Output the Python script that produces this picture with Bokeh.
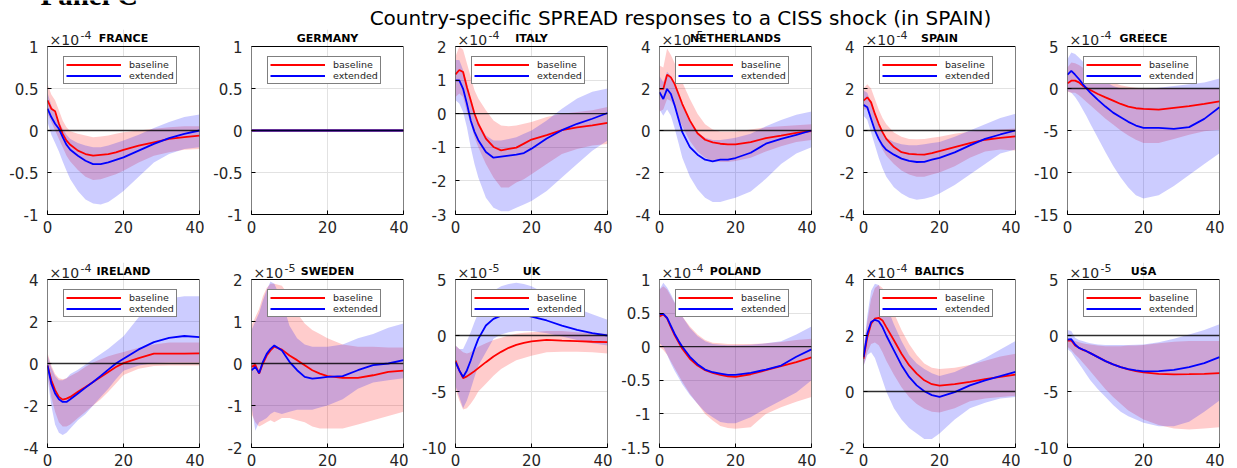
from bokeh.plotting import figure
from bokeh.models import Span, Label, Legend, LegendItem, FixedTicker, Range1d, BoxAnnotation
from bokeh.layouts import column, row
from bokeh.embed import file_html
from bokeh.resources import INLINE

# ---------------- data (values in units of the panel exponent) ----------------
horizon = [0, 1, 2, 3, 4, 5, 6, 8, 10, 12, 14, 16, 18, 20, 24, 28, 32, 36, 40]

countries = ["FRANCE", "GERMANY", "ITALY", "NETHERLANDS", "SPAIN", "GREECE",
             "IRELAND", "SWEDEN", "UK", "POLAND", "BALTICS", "USA"]
exponents = ["-4", None, "-4", "-5", "-4", "-4", "-4", "-5", "-5", "-4", "-4", "-5"]
y_limits = [(-1, 1), (-1, 1), (-3, 2), (-4, 4), (-4, 4), (-15, 5),
            (-4, 4), (-2, 2), (-10, 5), (-1.5, 1), (-2, 4), (-10, 5)]
y_tick_values = [[-1, -0.5, 0, 0.5, 1], [-1, -0.5, 0, 0.5, 1], [-3, -2, -1, 0, 1, 2],
                 [-4, -2, 0, 2, 4], [-4, -2, 0, 2, 4], [-15, -10, -5, 0, 5],
                 [-4, -2, 0, 2, 4], [-2, -1, 0, 1, 2], [-10, -5, 0, 5],
                 [-1.5, -1, -0.5, 0, 0.5, 1], [-2, 0, 2, 4], [-10, -5, 0, 5]]
x_tick_values = [0, 20, 40]
title_text = "Country-specific SPREAD responses to a CISS shock (in SPAIN)"
panel_text = "Panel C"

france_base = [0.36, 0.26, 0.23, 0.08, -0.04, -0.12, -0.17, -0.24, -0.28, -0.30, -0.29, -0.28, -0.26, -0.23, -0.18, -0.14, -0.10, -0.08, -0.06]
france_ext = [0.26, 0.16, 0.08, 0.02, -0.08, -0.17, -0.23, -0.30, -0.36, -0.40, -0.40, -0.38, -0.35, -0.32, -0.24, -0.16, -0.09, -0.04, 0.0]
france_base_hi = [0.55, 0.43, 0.36, 0.24, 0.12, 0.04, -0.01, -0.04, -0.06, -0.08, -0.07, -0.06, -0.04, -0.02, 0.0, 0.02, 0.04, 0.05, 0.05]
france_base_lo = [0.2, 0.1, 0.0, -0.1, -0.2, -0.3, -0.37, -0.47, -0.55, -0.59, -0.58, -0.55, -0.52, -0.48, -0.38, -0.30, -0.26, -0.23, -0.22]
france_ext_hi = [0.45, 0.30, 0.20, 0.10, 0.02, -0.05, -0.10, -0.15, -0.18, -0.20, -0.20, -0.18, -0.15, -0.12, -0.05, 0.03, 0.10, 0.16, 0.19]
france_ext_lo = [0.10, -0.05, -0.15, -0.25, -0.37, -0.48, -0.58, -0.72, -0.82, -0.87, -0.88, -0.85, -0.79, -0.72, -0.55, -0.38, -0.28, -0.22, -0.20]

germany_base = [0.0] * 19
germany_ext = [0.0] * 19
germany_base_hi = [0.0] * 19
germany_base_lo = [0.0] * 19
germany_ext_hi = [0.0] * 19
germany_ext_lo = [0.0] * 19

italy_base = [1.17, 1.30, 1.24, 0.79, 0.40, 0.0, -0.30, -0.74, -0.99, -1.09, -1.05, -1.01, -0.89, -0.77, -0.64, -0.49, -0.41, -0.35, -0.27]
italy_ext = [0.99, 0.99, 0.74, 0.30, -0.20, -0.54, -0.79, -1.14, -1.31, -1.28, -1.25, -1.22, -1.17, -1.04, -0.74, -0.49, -0.30, -0.15, 0.02]
italy_base_hi = [1.7, 2.0, 1.9, 1.5, 1.1, 0.7, 0.45, 0.1, -0.2, -0.35, -0.37, -0.35, -0.3, -0.25, -0.1, 0.0, 0.05, 0.1, 0.2]
italy_base_lo = [0.5, 0.6, 0.5, 0.05, -0.3, -0.7, -1.0, -1.5, -1.9, -2.2, -2.2, -2.05, -1.95, -1.8, -1.5, -1.2, -1.05, -0.95, -0.9]
italy_ext_hi = [1.6, 1.6, 1.3, 0.9, 0.4, 0.0, -0.3, -0.65, -0.8, -0.8, -0.75, -0.7, -0.6, -0.5, -0.2, 0.15, 0.45, 0.65, 0.75]
italy_ext_lo = [0.4, 0.3, 0.05, -0.4, -1.0, -1.5, -1.9, -2.5, -2.8, -2.9, -2.9, -2.8, -2.7, -2.6, -2.3, -1.9, -1.5, -1.1, -0.8]

netherlands_base = [1.98, 1.98, 2.66, 2.53, 2.21, 1.74, 1.26, 0.47, -0.13, -0.44, -0.57, -0.63, -0.66, -0.66, -0.55, -0.36, -0.24, -0.11, -0.03]
netherlands_ext = [1.82, 1.50, 1.98, 1.74, 1.19, 0.55, -0.08, -0.79, -1.15, -1.39, -1.47, -1.39, -1.39, -1.31, -1.06, -0.63, -0.40, -0.21, 0.0]
netherlands_base_hi = [3.1, 3.0, 3.9, 3.6, 3.2, 2.8, 2.3, 1.5, 0.8, 0.3, 0.05, -0.05, -0.05, -0.05, 0.05, 0.15, 0.2, 0.25, 0.3]
netherlands_base_lo = [0.9, 1.0, 1.5, 1.4, 1.1, 0.6, 0.2, -0.5, -1.0, -1.3, -1.45, -1.5, -1.5, -1.45, -1.3, -1.0, -0.75, -0.55, -0.45]
netherlands_ext_hi = [2.6, 2.3, 2.8, 2.6, 2.2, 1.7, 1.2, 0.4, -0.1, -0.35, -0.45, -0.45, -0.4, -0.35, -0.15, 0.2, 0.5, 0.75, 0.9]
netherlands_ext_lo = [1.0, 0.7, 1.0, 0.7, 0.1, -0.6, -1.3, -2.2, -2.8, -3.2, -3.4, -3.4, -3.3, -3.2, -2.9, -2.3, -1.6, -1.1, -0.8]

spain_base = [1.42, 1.58, 1.34, 0.79, 0.32, -0.08, -0.40, -0.79, -1.03, -1.11, -1.14, -1.15, -1.08, -0.98, -0.79, -0.60, -0.44, -0.35, -0.28]
spain_ext = [1.22, 1.11, 0.55, 0.0, -0.40, -0.71, -0.92, -1.15, -1.34, -1.45, -1.50, -1.49, -1.39, -1.30, -1.04, -0.71, -0.40, -0.19, 0.0]
spain_base_hi = [2.0, 2.2, 2.0, 1.5, 1.0, 0.6, 0.3, -0.1, -0.3, -0.4, -0.42, -0.4, -0.35, -0.3, -0.15, -0.05, 0.0, 0.05, 0.1]
spain_base_lo = [1.0, 1.0, 0.6, 0.0, -0.5, -0.9, -1.2, -1.6, -1.9, -2.1, -2.2, -2.2, -2.1, -2.0, -1.7, -1.3, -1.0, -0.9, -0.95]
spain_ext_hi = [1.9, 1.8, 1.3, 0.8, 0.3, -0.1, -0.35, -0.55, -0.65, -0.7, -0.7, -0.65, -0.6, -0.55, -0.3, 0.0, 0.3, 0.6, 0.8]
spain_ext_lo = [0.7, 0.5, -0.1, -0.7, -1.3, -1.8, -2.2, -2.7, -3.0, -3.2, -3.3, -3.25, -3.15, -3.0, -2.6, -2.1, -1.6, -1.1, -0.9]

greece_base = [0.61, 0.93, 0.93, 0.73, 0.34, 0.06, -0.18, -0.65, -1.05, -1.44, -1.84, -2.15, -2.35, -2.43, -2.51, -2.31, -2.11, -1.84, -1.52]
greece_ext = [1.64, 2.11, 1.64, 1.13, 0.53, 0.02, -0.49, -1.36, -2.15, -2.87, -3.42, -3.97, -4.41, -4.68, -4.68, -4.80, -4.60, -3.62, -2.23]
greece_base_hi = [2.5, 3.1, 3.0, 2.8, 2.5, 2.2, 1.9, 1.4, 1.0, 0.7, 0.4, 0.2, 0.1, 0.0, 0.05, 0.05, 0.0, 0.0, 0.0]
greece_base_lo = [-0.4, -0.5, -0.5, -0.8, -1.2, -1.6, -2.0, -2.8, -3.6, -4.3, -5.0, -5.6, -6.1, -6.5, -6.5, -6.0, -5.5, -5.1, -4.9]
greece_ext_hi = [3.5, 4.3, 4.1, 3.7, 3.2, 2.7, 2.2, 1.4, 0.8, 0.3, 0.0, -0.1, -0.1, -0.1, 0.1, 0.3, 0.5, 0.7, 1.2]
greece_ext_lo = [-0.3, -0.5, -1.0, -1.7, -2.5, -3.3, -4.2, -5.9, -7.6, -9.2, -10.6, -11.8, -12.7, -13.1, -12.7, -11.6, -10.3, -9.0, -7.7]

ireland_base = [-0.09, -0.80, -1.27, -1.59, -1.72, -1.67, -1.59, -1.35, -1.12, -0.88, -0.64, -0.40, -0.17, 0.02, 0.26, 0.47, 0.47, 0.47, 0.48]
ireland_ext = [-0.09, -0.96, -1.43, -1.70, -1.83, -1.83, -1.70, -1.43, -1.15, -0.88, -0.59, -0.29, 0.0, 0.23, 0.67, 1.02, 1.22, 1.31, 1.26]
ireland_base_hi = [0.5, -0.1, -0.5, -0.7, -0.75, -0.7, -0.6, -0.4, -0.15, 0.05, 0.2, 0.35, 0.45, 0.55, 0.75, 0.9, 1.0, 1.0, 1.0]
ireland_base_lo = [-0.5, -1.6, -2.3, -2.8, -3.0, -3.0, -2.9, -2.6, -2.3, -2.0, -1.7, -1.35, -0.95, -0.55, -0.25, -0.12, -0.1, -0.1, -0.1]
ireland_ext_hi = [0.4, -0.2, -0.6, -0.8, -0.8, -0.7, -0.5, -0.3, -0.05, 0.2, 0.45, 0.7, 1.0, 1.3, 2.2, 2.8, 3.1, 3.2, 3.2]
ireland_ext_lo = [-0.7, -2.0, -2.9, -3.3, -3.4, -3.3, -3.1, -2.7, -2.4, -2.0, -1.6, -1.2, -0.75, -0.35, -0.1, 0.02, 0.05, 0.05, 0.05]

sweden_base = [-0.08, -0.03, -0.24, 0.0, 0.19, 0.31, 0.40, 0.33, 0.19, 0.08, -0.04, -0.16, -0.24, -0.30, -0.34, -0.34, -0.28, -0.20, -0.17]
sweden_ext = [-0.16, -0.08, -0.23, 0.04, 0.23, 0.35, 0.43, 0.31, 0.04, -0.16, -0.32, -0.36, -0.34, -0.32, -0.30, -0.16, -0.04, 0.0, 0.08]
sweden_base_hi = [0.9, 1.1, 1.3, 1.6, 1.8, 1.9, 1.9, 1.85, 1.6, 1.2, 0.95, 0.8, 0.7, 0.6, 0.45, 0.4, 0.4, 0.38, 0.38]
sweden_base_lo = [-1.2, -1.4, -1.5, -1.45, -1.4, -1.35, -1.4, -1.3, -1.3, -1.35, -1.4, -1.5, -1.55, -1.55, -1.55, -1.45, -1.35, -1.25, -1.15]
sweden_ext_hi = [0.8, 1.0, 1.2, 1.5, 1.75, 1.95, 1.9, 1.5, 0.9, 0.6, 0.45, 0.4, 0.4, 0.4, 0.45, 0.6, 0.7, 0.85, 0.95]
sweden_ext_lo = [-1.0, -1.6, -1.4, -1.35, -1.3, -1.2, -1.15, -1.2, -1.15, -1.1, -1.1, -1.1, -1.05, -1.0, -0.85, -0.6, -0.45, -0.4, -0.35]

uk_base = [-2.23, -3.12, -3.80, -3.65, -3.42, -3.18, -2.91, -2.38, -1.87, -1.46, -1.10, -0.83, -0.65, -0.53, -0.39, -0.45, -0.50, -0.56, -0.59]
uk_ext = [-2.38, -3.12, -3.71, -3.12, -2.23, -1.19, -0.30, 0.89, 1.48, 1.78, 1.93, 1.93, 1.84, 1.69, 1.34, 0.89, 0.50, 0.21, 0.0]
uk_base_hi = [-0.9, -1.2, -1.5, -1.6, -1.5, -1.2, -1.0, -0.7, -0.4, -0.2, 0.0, 0.15, 0.25, 0.3, 0.4, 0.4, 0.3, 0.2, 0.15]
uk_base_lo = [-4.8, -5.8, -6.6, -6.5, -6.1, -5.6, -5.0, -4.3, -3.6, -3.0, -2.6, -2.2, -2.0, -1.8, -1.5, -1.45, -1.45, -1.5, -1.6]
uk_ext_hi = [-0.9, -1.2, -1.2, -0.5, 0.3, 1.2, 2.0, 3.2, 4.0, 4.4, 4.6, 4.7, 4.6, 4.4, 3.7, 3.0, 2.4, 1.9, 1.4]
uk_ext_lo = [-4.5, -5.5, -6.5, -5.8, -4.8, -3.7, -2.7, -1.5, -0.3, 0.1, 0.3, 0.4, 0.4, 0.4, 0.2, -0.1, -0.4, -0.7, -0.9]

poland_base = [0.45, 0.48, 0.42, 0.29, 0.17, 0.07, -0.03, -0.18, -0.28, -0.35, -0.39, -0.42, -0.44, -0.45, -0.41, -0.35, -0.29, -0.23, -0.16]
poland_ext = [0.48, 0.49, 0.43, 0.31, 0.19, 0.09, 0.0, -0.15, -0.26, -0.34, -0.38, -0.40, -0.42, -0.42, -0.39, -0.34, -0.28, -0.15, -0.04]
poland_base_hi = [0.85, 0.9, 0.85, 0.75, 0.65, 0.55, 0.45, 0.3, 0.18, 0.1, 0.06, 0.05, 0.04, 0.04, 0.04, 0.05, 0.07, 0.1, 0.12]
poland_base_lo = [0.0, -0.05, -0.12, -0.22, -0.32, -0.42, -0.52, -0.7, -0.85, -1.0, -1.1, -1.18, -1.21, -1.22, -1.2, -1.0, -0.9, -0.82, -0.75]
poland_ext_hi = [0.85, 0.95, 0.88, 0.78, 0.66, 0.55, 0.45, 0.28, 0.16, 0.08, 0.04, 0.03, 0.02, 0.02, 0.03, 0.05, 0.08, 0.18, 0.3]
poland_ext_lo = [0.05, 0.0, -0.12, -0.25, -0.36, -0.46, -0.56, -0.72, -0.85, -0.97, -1.05, -1.12, -1.14, -1.14, -1.05, -0.92, -0.8, -0.68, -0.5]

baltics_base = [1.17, 1.94, 2.42, 2.60, 2.63, 2.54, 2.30, 1.83, 1.35, 0.94, 0.64, 0.40, 0.26, 0.21, 0.26, 0.34, 0.44, 0.52, 0.60]
baltics_ext = [1.23, 2.06, 2.48, 2.56, 2.51, 2.30, 2.00, 1.47, 0.94, 0.52, 0.22, 0.01, -0.13, -0.19, -0.02, 0.22, 0.40, 0.55, 0.70]
baltics_base_hi = [1.5, 2.5, 3.3, 3.7, 3.8, 3.7, 3.4, 2.8, 2.2, 1.7, 1.3, 1.0, 0.85, 0.8, 0.85, 0.95, 1.1, 1.25, 1.35]
baltics_base_lo = [0.9, 1.4, 1.7, 1.75, 1.65, 1.4, 1.1, 0.6, 0.15, -0.2, -0.45, -0.62, -0.72, -0.75, -0.6, -0.35, -0.25, -0.2, -0.15]
baltics_ext_hi = [1.5, 2.7, 3.6, 3.85, 3.8, 3.5, 3.1, 2.4, 1.8, 1.3, 1.0, 0.8, 0.65, 0.55, 0.7, 0.95, 1.2, 1.5, 1.8]
baltics_ext_lo = [0.9, 1.3, 1.4, 1.2, 0.8, 0.4, 0.0, -0.6, -1.0, -1.3, -1.5, -1.7, -1.7, -1.5, -1.0, -0.6, -0.4, -0.25, -0.2]

usa_base = [-0.45, -0.45, -0.89, -1.10, -1.28, -1.40, -1.57, -1.93, -2.29, -2.58, -2.82, -3.03, -3.18, -3.30, -3.42, -3.47, -3.45, -3.42, -3.36]
usa_ext = [-0.36, -0.33, -0.80, -1.10, -1.25, -1.40, -1.57, -1.93, -2.29, -2.58, -2.82, -3.00, -3.12, -3.21, -3.18, -3.06, -2.82, -2.47, -1.93]
usa_base_hi = [-0.2, -0.3, -0.5, -0.6, -0.7, -0.75, -0.8, -0.9, -0.95, -0.95, -0.95, -0.9, -0.9, -0.85, -0.7, -0.55, -0.5, -0.5, -0.5]
usa_base_lo = [-1.0, -1.3, -1.7, -2.0, -2.4, -2.8, -3.2, -4.0, -4.8, -5.5, -6.1, -6.7, -7.1, -7.5, -8.0, -8.3, -8.4, -8.3, -8.2]
usa_ext_hi = [0.5, 0.4, -0.2, -0.4, -0.5, -0.6, -0.7, -0.8, -0.85, -0.85, -0.85, -0.85, -0.82, -0.8, -0.6, -0.3, 0.1, 0.5, 1.0]
usa_ext_lo = [-1.2, -1.5, -2.0, -2.5, -3.0, -3.5, -4.0, -4.8, -5.5, -6.2, -6.8, -7.2, -7.5, -7.8, -8.1, -8.1, -7.7, -6.8, -5.8]

series = {
    "FRANCE": (france_base, france_ext, france_base_lo, france_base_hi, france_ext_lo, france_ext_hi),
    "GERMANY": (germany_base, germany_ext, germany_base_lo, germany_base_hi, germany_ext_lo, germany_ext_hi),
    "ITALY": (italy_base, italy_ext, italy_base_lo, italy_base_hi, italy_ext_lo, italy_ext_hi),
    "NETHERLANDS": (netherlands_base, netherlands_ext, netherlands_base_lo, netherlands_base_hi, netherlands_ext_lo, netherlands_ext_hi),
    "SPAIN": (spain_base, spain_ext, spain_base_lo, spain_base_hi, spain_ext_lo, spain_ext_hi),
    "GREECE": (greece_base, greece_ext, greece_base_lo, greece_base_hi, greece_ext_lo, greece_ext_hi),
    "IRELAND": (ireland_base, ireland_ext, ireland_base_lo, ireland_base_hi, ireland_ext_lo, ireland_ext_hi),
    "SWEDEN": (sweden_base, sweden_ext, sweden_base_lo, sweden_base_hi, sweden_ext_lo, sweden_ext_hi),
    "UK": (uk_base, uk_ext, uk_base_lo, uk_base_hi, uk_ext_lo, uk_ext_hi),
    "POLAND": (poland_base, poland_ext, poland_base_lo, poland_base_hi, poland_ext_lo, poland_ext_hi),
    "BALTICS": (baltics_base, baltics_ext, baltics_base_lo, baltics_base_hi, baltics_ext_lo, baltics_ext_hi),
    "USA": (usa_base, usa_ext, usa_base_lo, usa_base_hi, usa_ext_lo, usa_ext_hi),
}

# ---------------- styling ----------------
RED = "#ff0000"
BLUE = "#0000ff"
TICK_FONT = "DejaVu Sans"
BOX_W, BOX_H = 152, 168   # visible axes box
EXTRA = 17                # room above the box for panel title / exponent
HEADER_H = 29


def fmt(v):
    return "%g" % v


def make_panel(i, top_border, bottom_border):
    name = countries[i]
    base, ext, blo, bhi, elo, ehi = series[name]
    ymin, ymax = y_limits[i]
    yt = y_tick_values[i]
    ytop = ymax + EXTRA * (ymax - ymin) / BOX_H
    p = figure(frame_width=BOX_W, frame_height=BOX_H + EXTRA,
               min_border_left=47, min_border_right=5,
               min_border_top=top_border, min_border_bottom=bottom_border,
               x_range=Range1d(0, 40), y_range=Range1d(ymin, ytop),
               title_location=None,
               output_backend="svg", toolbar_location=None,
               background_fill_color="white", border_fill_color="white",
               outline_line_color=None)
    p.varea(x=horizon, y1=blo, y2=bhi, fill_color=RED, fill_alpha=0.2)
    p.varea(x=horizon, y1=elo, y2=ehi, fill_color=BLUE, fill_alpha=0.2)
    r1 = p.line(horizon, base, line_color=RED, line_width=1.8)
    r2 = p.line(horizon, ext, line_color=BLUE, line_width=1.8)
    p.add_layout(Span(location=0, dimension="width", line_color="black",
                      line_alpha=0.8, line_width=1.3))
    # axes box
    p.add_layout(BoxAnnotation(left=0, right=40, bottom=ymin, top=ymax,
                               fill_color=None, fill_alpha=0,
                               line_color="black", line_width=1, line_alpha=1,
                               level="overlay"))

    p.xaxis.ticker = FixedTicker(ticks=x_tick_values)
    p.yaxis.ticker = FixedTicker(ticks=yt)
    p.xaxis.major_label_overrides = {t: fmt(t) for t in x_tick_values}
    p.yaxis.major_label_overrides = {t: fmt(t) for t in yt}
    for ax in (p.xaxis[0], p.yaxis[0]):
        ax.major_label_text_font = TICK_FONT
        ax.major_label_text_font_size = "15px"
        ax.major_label_text_color = "#262626"
        ax.major_tick_in = 4
        ax.major_tick_out = 0
        ax.minor_tick_line_color = None
        ax.major_tick_line_color = "black"
    p.xaxis.axis_line_color = "black"
    p.yaxis.axis_line_color = None
    p.xaxis.major_label_standoff = 6
    p.yaxis.major_label_standoff = 9

    p.xgrid.ticker = FixedTicker(ticks=[20])
    p.xgrid.bounds = (ymin, ymax)
    p.ygrid.ticker = FixedTicker(ticks=[t for t in yt if t not in (ymin, ymax)])
    p.grid.grid_line_color = "#e2e2e2"
    p.grid.grid_line_width = 1

    legend = Legend(items=[LegendItem(label="baseline", renderers=[r1]),
                           LegendItem(label="extended", renderers=[r2])],
                    location=(16, 130), glyph_width=55, glyph_height=9,
                    label_height=9, label_standoff=8, spacing=0, padding=2,
                    margin=0, label_text_font=TICK_FONT,
                    label_text_font_size="9.5px", label_text_color="#262626",
                    border_line_color="black", border_line_width=1,
                    background_fill_color="white", background_fill_alpha=1)
    p.add_layout(legend)

    # panel title and exponent (anchor renders at the text's vertical middle)
    p.add_layout(Label(x=20, y=ymax, y_offset=8, text=name, text_align="center",
                       text_baseline="alphabetic", text_font=TICK_FONT,
                       text_font_style="bold", text_font_size="11px",
                       text_color="black"))
    exp = exponents[i]
    if exp is not None:
        p.add_layout(Label(x=0, y=ymax, x_offset=2, y_offset=7, text="\u00d710",
                           text_align="left", text_baseline="alphabetic",
                           text_font=TICK_FONT, text_font_size="14px",
                           text_color="#262626"))
        p.add_layout(Label(x=0, y=ymax, x_offset=33, y_offset=12, text=exp,
                           text_align="left", text_baseline="alphabetic",
                           text_font=TICK_FONT, text_font_size="11px",
                           text_color="#262626"))
    return p


# header with the overall title
header = figure(width=1237, height=HEADER_H, x_range=Range1d(0, 1237),
                y_range=Range1d(0, HEADER_H), x_axis_type=None, y_axis_type=None,
                min_border=0, title_location=None,
                output_backend="svg", toolbar_location=None,
                outline_line_color=None, background_fill_color="white",
                border_fill_color="white")
header.grid.visible = False
header.add_layout(Label(x=680, y=HEADER_H - 17, text=title_text, text_align="center",
                        text_baseline="alphabetic", text_font="DejaVu Sans",
                        text_font_size="20px", text_color="black"))
header.add_layout(Label(x=40, y=HEADER_H + 6, text=panel_text, text_align="left",
                        text_baseline="alphabetic", text_font="Liberation Serif",
                        text_font_style="bold", text_font_size="29px",
                        text_color="black"))

row1 = [make_panel(i, 46 - HEADER_H - EXTRA, 35) for i in range(6)]
row2 = [make_panel(i, 279 - 249 - EXTRA, 21) for i in range(6, 12)]

layout = column(header, row(*row1), row(*row2))

with open("out.html", "w") as f:
    f.write(file_html(layout, INLINE))
